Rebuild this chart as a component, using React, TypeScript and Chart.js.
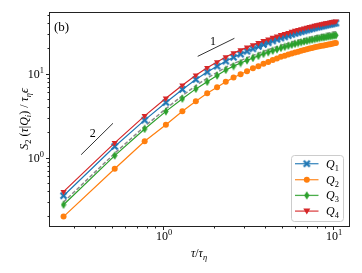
import React, { useEffect, useRef } from 'react';
import { Chart, registerables } from 'chart.js';

Chart.register(...registerables);

// ---------- data ----------
const tau = [0.26, 0.52, 0.78, 1.04, 1.30, 1.56, 1.82, 2.08, 2.34, 2.60, 2.86, 3.12, 3.38, 3.64, 3.90, 4.16, 4.42, 4.68, 4.94, 5.20,
  5.46, 5.72, 5.98, 6.24, 6.50, 6.76, 7.02, 7.28, 7.54, 7.80, 8.06, 8.32, 8.58, 8.84, 9.10, 9.36, 9.62, 9.88, 10.14, 10.40];

const q1 = [0.353, 1.36, 2.80, 4.54, 6.50, 8.54, 10.5, 12.3, 14.1, 15.7, 17.1, 18.5, 19.8, 21.1, 22.3, 23.4, 24.6, 25.6, 26.6, 27.5,
  28.4, 29.3, 30.2, 30.9, 31.7, 32.4, 33.1, 33.8, 34.4, 35.1, 35.7, 36.2, 36.8, 37.2, 37.8, 38.3, 38.7, 39.2, 39.7, 40.1];
const q2 = [0.199, 0.74, 1.57, 2.47, 3.58, 4.70, 5.85, 6.90, 8.00, 9.00, 9.84, 10.7, 11.6, 12.3, 13.1, 13.8, 14.6, 15.2, 15.9, 16.4,
  16.9, 17.4, 17.9, 18.3, 18.8, 19.1, 19.5, 19.9, 20.2, 20.6, 20.9, 21.2, 21.5, 21.7, 22.0, 22.3, 22.5, 22.8, 23.0, 23.2];
const q3 = [0.275, 1.06, 2.20, 3.56, 5.04, 6.60, 8.00, 9.50, 11.1, 12.3, 13.4, 14.4, 15.4, 16.3, 17.2, 18.0, 18.8, 19.5, 20.3, 20.9,
  21.5, 22.1, 22.7, 23.2, 23.7, 24.2, 24.6, 25.1, 25.4, 25.8, 26.2, 26.5, 26.9, 27.1, 27.4, 27.7, 27.9, 28.2, 28.5, 28.7];
const q4 = [0.394, 1.50, 3.15, 5.10, 7.30, 9.60, 11.8, 13.8, 15.8, 17.6, 19.1, 20.6, 22.0, 23.3, 24.6, 25.7, 26.9, 27.9, 29.0, 29.9,
  30.8, 31.7, 32.6, 33.3, 34.1, 34.8, 35.5, 36.2, 36.8, 37.4, 38.0, 38.5, 39.1, 39.5, 40.0, 40.5, 40.9, 41.4, 41.8, 42.2];
const unconditioned = [0.296, 1.13, 2.36, 3.83, 5.48, 7.20, 8.85, 10.4, 11.9, 13.2, 14.3, 15.5, 16.5, 17.5, 18.5, 19.3, 20.2, 20.9, 21.8, 22.4,
  23.1, 23.8, 24.5, 25.0, 25.6, 26.1, 26.6, 27.2, 27.6, 28.1, 28.5, 28.9, 29.3, 29.6, 30.0, 30.4, 30.7, 31.1, 31.4, 31.7];

const slope2X = [0.330, 0.508];
const slope2Y = [1.086, 2.57];
const slope1X = [1.60, 2.63];
const slope1Y = [16.1, 26.4];
const slopeLabels = [
  { text: '2', x: 0.386, y: 1.99 },
  { text: '1', x: 1.97, y: 24.2 },
];

const seriesNames = ['1', '2', '3', '4'];
const colors = ['#1f77b4', '#ff7f0e', '#2ca02c', '#d62728'];

const xMajor = [1, 10];
const xMajorExp = ['0', '1'];
const yMajor = [1, 10];
const yMajorExp = ['0', '1'];

const X_MIN = 0.2135, X_MAX = 12.42, Y_MIN = 0.1538, Y_MAX = 54.3;
const W = 362, H = 273;
const FONT = "'Liberation Serif', 'DejaVu Serif', serif";

type Seg = { t: string; it?: boolean; sub?: boolean; sup?: boolean };

function segFont(s: Seg, size: number) {
  const sz = s.sub || s.sup ? size * 0.7 : size;
  return `${s.it ? 'italic ' : ''}${sz}px ${FONT}`;
}
function measureRich(ctx: CanvasRenderingContext2D, segs: Seg[], size: number) {
  let w = 0;
  for (const s of segs) { ctx.font = segFont(s, size); w += ctx.measureText(s.t).width; }
  return w;
}
function drawRich(ctx: CanvasRenderingContext2D, segs: Seg[], x: number, y: number, size: number, align: 'left' | 'center' | 'right') {
  const w = measureRich(ctx, segs, size);
  let cx = align === 'left' ? x : align === 'center' ? x - w / 2 : x - w;
  ctx.textAlign = 'left';
  ctx.textBaseline = 'alphabetic';
  for (const s of segs) {
    ctx.font = segFont(s, size);
    const dy = s.sub ? size * 0.25 : s.sup ? -size * 0.42 : 0;
    ctx.fillText(s.t, cx, y + dy);
    cx += ctx.measureText(s.t).width;
  }
}

function makeX(color: string) {
  const c = document.createElement('canvas');
  c.width = 9; c.height = 9;
  const g = c.getContext('2d')!;
  g.strokeStyle = color; g.lineWidth = 2.3; g.lineCap = 'butt';
  g.beginPath(); g.moveTo(1.5, 1.5); g.lineTo(7.5, 7.5); g.moveTo(7.5, 1.5); g.lineTo(1.5, 7.5); g.stroke();
  return c;
}
function makeDiamond(color: string) {
  const c = document.createElement('canvas');
  c.width = 6; c.height = 9;
  const g = c.getContext('2d')!;
  g.fillStyle = color;
  g.beginPath(); g.moveTo(3, 0.3); g.lineTo(5.6, 4.5); g.lineTo(3, 8.7); g.lineTo(0.4, 4.5); g.closePath(); g.fill();
  return c;
}

export default function App() {
  const ref = useRef<HTMLCanvasElement>(null);
  useEffect(() => {
    document.body.style.margin = '0';
    const canvas = ref.current!;
    const xImg = makeX(colors[0]);
    const dImg = makeDiamond(colors[2]);
    const pts = (ys: number[], xs: number[] = tau) => xs.map((x, i) => ({ x, y: ys[i] }));

    const axesPlugin = {
      id: 'axesPlugin',
      afterDraw(chart: any) {
        const { ctx, chartArea: a, scales } = chart;
        const xs = scales.x, ys = scales.y;
        ctx.save();
        ctx.fillStyle = '#000';
        // slope labels
        for (const l of slopeLabels) {
          drawRich(ctx, [{ t: l.text }], xs.getPixelForValue(l.x), ys.getPixelForValue(l.y) + 4, 12, 'center');
        }
        // panel label
        drawRich(ctx, [{ t: '(b)' }], a.left + 5, a.top + 19, 13, 'left');
        // frame
        ctx.strokeStyle = '#222'; ctx.lineWidth = 1;
        ctx.strokeRect(Math.round(a.left) + 0.5, Math.round(a.top) + 0.5, Math.round(a.right - a.left), Math.round(a.bottom - a.top));
        // ticks
        ctx.beginPath();
        for (const dec of [0.1, 1, 10]) {
          for (let m = 1; m <= 9; m++) {
            const v = dec * m;
            const len = m === 1 ? 3.5 : 2;
            if (v >= X_MIN && v <= X_MAX) {
              const px = Math.round(xs.getPixelForValue(v)) + 0.5;
              ctx.moveTo(px, Math.round(a.bottom) + 0.5); ctx.lineTo(px, Math.round(a.bottom) + 0.5 + len);
            }
            if (v >= Y_MIN && v <= Y_MAX) {
              const py = Math.round(ys.getPixelForValue(v)) + 0.5;
              ctx.moveTo(Math.round(a.left) + 0.5, py); ctx.lineTo(Math.round(a.left) + 0.5 - len, py);
            }
          }
        }
        ctx.stroke();
        // tick labels
        xMajor.forEach((v, i) => {
          drawRich(ctx, [{ t: '10' }, { t: xMajorExp[i], sup: true }], xs.getPixelForValue(v) + 1, a.bottom + 14, 12, 'center');
        });
        yMajor.forEach((v, i) => {
          drawRich(ctx, [{ t: '10' }, { t: yMajorExp[i], sup: true }], a.left - 5, ys.getPixelForValue(v) + 4, 12, 'right');
        });
        // axis labels
        drawRich(ctx, [{ t: 'τ', it: true }, { t: '/' }, { t: 'τ', it: true }, { t: 'η', it: true, sub: true }],
          (a.left + a.right) / 2, 257, 12, 'center');
        ctx.save();
        ctx.translate(28, (a.top + a.bottom) / 2);
        ctx.rotate(-Math.PI / 2);
        drawRich(ctx, [{ t: 'S', it: true }, { t: '2', sub: true }, { t: ' (' }, { t: 'τ', it: true }, { t: '|' },
          { t: 'Q', it: true }, { t: 'i', it: true, sub: true }, { t: ')' }, { t: ' / ' }, { t: 'τ', it: true },
          { t: 'η', it: true, sub: true }, { t: 'ϵ', it: true }], 0, 0, 12, 'center');
        ctx.restore();
        // legend
        const bx = 291.5, by = 155.5, bw = 52, bh = 66;
        ctx.beginPath();
        ctx.roundRect(bx, by, bw, bh, 3);
        ctx.fillStyle = 'rgba(255,255,255,0.85)'; ctx.fill();
        ctx.strokeStyle = '#cccccc'; ctx.lineWidth = 1; ctx.stroke();
        const rows = [163.7, 179.7, 195.4, 211.1];
        rows.forEach((ry, i) => {
          ctx.strokeStyle = colors[i]; ctx.lineWidth = 1.3; ctx.globalAlpha = 0.85;
          ctx.beginPath(); ctx.moveTo(295, ry); ctx.lineTo(318.5, ry); ctx.stroke();
          ctx.globalAlpha = 1;
          const mx = 306.8;
          ctx.fillStyle = colors[i];
          if (i === 0) ctx.drawImage(xImg, mx - 4.5, ry - 4.5);
          else if (i === 1) { ctx.beginPath(); ctx.arc(mx, ry, 3, 0, Math.PI * 2); ctx.fill(); }
          else if (i === 2) ctx.drawImage(dImg, mx - 3, ry - 4.5);
          else { ctx.beginPath(); ctx.moveTo(mx - 3.5, ry - 2.5); ctx.lineTo(mx + 3.5, ry - 2.5); ctx.lineTo(mx, ry + 3.5); ctx.closePath(); ctx.fill(); }
          ctx.fillStyle = '#000';
          drawRich(ctx, [{ t: 'Q', it: true }, { t: seriesNames[i], sub: true }], 326, ry + 4, 12, 'left');
        });
        ctx.restore();
      },
    };

    const common = { borderWidth: 1.2, tension: 0, fill: false };
    const chart = new Chart(canvas, {
      type: 'line',
      data: {
        datasets: [
          { ...common, label: 'Q4', data: pts(q4), borderColor: colors[3], backgroundColor: colors[3], pointStyle: 'triangle', pointRotation: 180, pointRadius: 3.6, pointBorderWidth: 0 },
          { ...common, label: 'Q3', data: pts(q3), borderColor: colors[2], backgroundColor: colors[2], pointStyle: dImg, pointRadius: 3 },
          { ...common, label: 'Q2', data: pts(q2), borderColor: colors[1], backgroundColor: colors[1], pointStyle: 'circle', pointRadius: 3, pointBorderWidth: 0 },
          { ...common, label: 'Q1', data: pts(q1), borderColor: colors[0], backgroundColor: colors[0], pointStyle: xImg, pointRadius: 3 },
          { ...common, label: 'all', data: pts(unconditioned), borderColor: '#8a8a8a', borderDash: [4, 2], borderWidth: 1.5, pointRadius: 0 },
          { ...common, label: 's2', data: pts(slope2Y, slope2X), borderColor: '#333', borderWidth: 1, pointRadius: 0 },
          { ...common, label: 's1', data: pts(slope1Y, slope1X), borderColor: '#333', borderWidth: 1, pointRadius: 0 },
        ],
      },
      options: {
        animation: false,
        responsive: false,
        devicePixelRatio: 1,
        layout: { padding: { left: 49, top: 12, right: W - 349, bottom: H - 226 } },
        scales: {
          x: { type: 'logarithmic', min: X_MIN, max: X_MAX, display: false },
          y: { type: 'logarithmic', min: Y_MIN, max: Y_MAX, display: false },
        },
        plugins: { legend: { display: false }, tooltip: { enabled: false } },
      },
      plugins: [axesPlugin],
    } as any);
    return () => chart.destroy();
  }, []);
  return <canvas ref={ref} width={W} height={H} style={{ display: 'block' }} />;
}
